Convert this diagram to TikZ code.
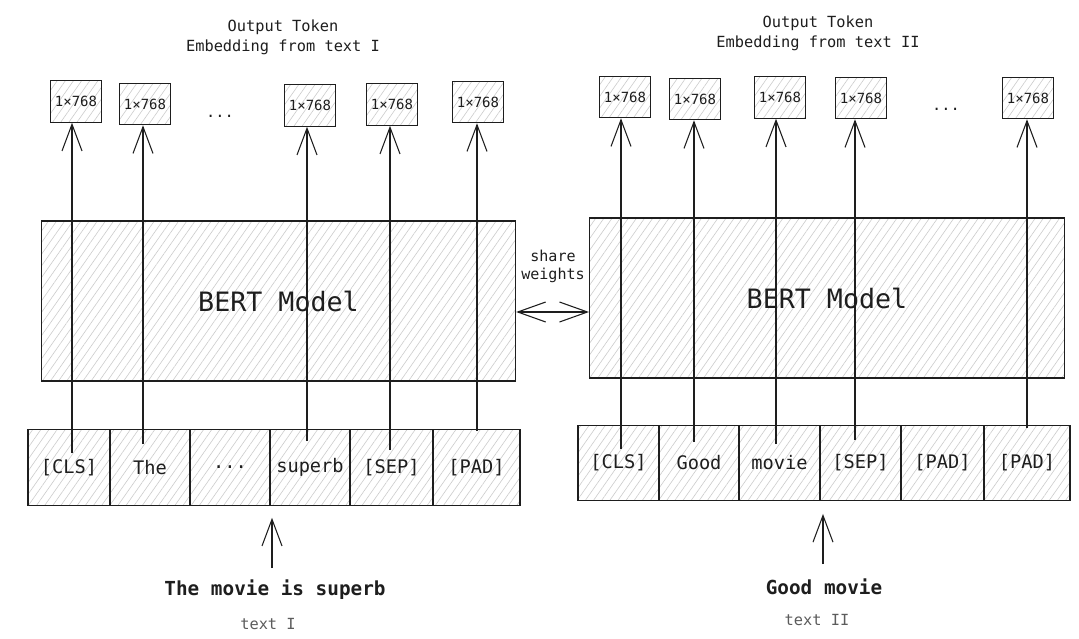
\documentclass[tikz,border=0pt]{standalone}
\usepackage{fontspec}
\setmonofont{DejaVu Sans Mono}
\usetikzlibrary{arrows.meta,patterns.meta}
\definecolor{ink}{HTML}{1E1E1E}
\definecolor{soft}{HTML}{5C5C5C}
\begin{document}
\begin{tikzpicture}[x=0.75pt,y=-0.75pt,
  every node/.style={font=\ttfamily, text=ink},
  hatch/.style={draw=ink, line width=0.9pt, pattern={Lines[angle=55,distance=5pt,line width=0.45pt]}, pattern color=black!20},
  outbox/.style={hatch, minimum width=38.5pt, minimum height=31pt, inner sep=0pt, font=\ttfamily\fontsize{10.5}{12}\selectfont},
  cell/.style={hatch, minimum height=56.5pt, inner sep=0pt, font=\ttfamily\fontsize{14}{16}\selectfont},
  bert/.style={hatch, minimum width=356pt, minimum height=120pt, inner sep=0pt, font=\ttfamily\fontsize{20}{24}\selectfont},
  title/.style={align=center, font=\ttfamily\fontsize{11.5}{15}\selectfont},
  sentence/.style={font=\ttfamily\bfseries\fontsize{14.5}{17}\selectfont},
  caption/.style={font=\ttfamily\fontsize{11.5}{14}\selectfont, text=soft},
  dots/.style={anchor=base, font=\ttfamily\fontsize{11.5}{14}\selectfont},
  arr/.style={draw=ink, line width=0.8pt, -{Straight Barb[length=20pt,width=15pt,line width=0.8pt]}},
  dblarr/.style={draw=ink, line width=0.8pt, {Straight Barb[length=21pt,width=15pt,line width=0.8pt]}-{Straight Barb[length=21pt,width=15pt,line width=0.8pt]}}
]
\useasboundingbox[fill=white] (0,0) rectangle (1079,639);

% titles
\node[title] (titleL) at (283,37) {Output Token\\Embedding from text I};
\node[title] (titleR) at (818,33) {Output Token\\Embedding from text II};

% BERT models
\node[bert] (bertL) at (278.5,301) {BERT Model};
\node[bert] (bertR) at (827,298) {BERT Model};

% share weights
\node[title, font=\ttfamily\fontsize{11.3}{13.5}\selectfont] (share) at (553,266) {share\\weights};
\coordinate (swy) at (0,312);
\draw[dblarr] (bertL.east |- swy) -- (bertR.west |- swy);

% token row left
\node[cell, minimum width=61.5pt]  (cL1) at (69,467.5)   {[CLS]};
\node[cell, minimum width=60pt]    (cL2) at (150,467.5)  {The};
\node[cell, minimum width=60pt]    (cL3) at (230,467.5)  {...};
\node[cell, minimum width=60pt]    (cL4) at (310,467.5)  {superb};
\node[cell, minimum width=62.25pt] (cL5) at (391.5,467.5){[SEP]};
\node[cell, minimum width=65.25pt] (cL6) at (476.5,467.5){[PAD]};

% token row right
\node[cell, minimum width=60.75pt] (cR1) at (618.5,463)  {[CLS]};
\node[cell, minimum width=60pt]    (cR2) at (699,463)    {Good};
\node[cell, minimum width=60.75pt] (cR3) at (779.5,463)  {movie};
\node[cell, minimum width=60.75pt] (cR4) at (860.5,463)  {[SEP]};
\node[cell, minimum width=62.25pt] (cR5) at (942.5,463)  {[PAD]};
\node[cell, minimum width=64.5pt]  (cR6) at (1027,463)   {[PAD]};

% output boxes left
\node[outbox] (oL1) at (76,101.5) {1×768};
\node[outbox] (oL2) at (145,104)  {1×768};
\node[dots]   (dL)  at (220,117)  {...};
\node[outbox] (oL3) at (310,105.5){1×768};
\node[outbox] (oL4) at (392,104.5){1×768};
\node[outbox] (oL5) at (478,102)  {1×768};

% output boxes right
\node[outbox] (oR1) at (625,97)  {1×768};
\node[outbox] (oR2) at (695,99)  {1×768};
\node[outbox] (oR3) at (780,97.5){1×768};
\node[outbox] (oR4) at (861,98)  {1×768};
\node[dots]   (dR)  at (946,110) {...};
\node[outbox] (oR5) at (1028,98) {1×768};

% input sentences
\node[sentence] (sentL) at (275,590) {The movie is superb};
\node[caption]  (capL)  at (268,624) {text I};
\node[sentence] (sentR) at (824,587) {Good movie};
\node[caption]  (capR)  at (817,620) {text II};

% start points of the vertical connectors
\coordinate (sL1) at (72,453);
\coordinate (sL2) at (143,444);
\coordinate (sL3) at (307,441);
\coordinate (sL4) at (390,450);
\coordinate (sL5) at (477,431);
\coordinate (sR1) at (621,449);
\coordinate (sR2) at (694,442);
\coordinate (sR3) at (776,444);
\coordinate (sR4) at (855,440);
\coordinate (sR5) at (1027,428);

\draw[arr] (sL1) -- (sL1 |- oL1.south);
\draw[arr] (sL2) -- (sL2 |- oL2.south);
\draw[arr] (sL3) -- (sL3 |- oL3.south);
\draw[arr] (sL4) -- (sL4 |- oL4.south);
\draw[arr] (sL5) -- (sL5 |- oL5.south);
\draw[arr] (sR1) -- (sR1 |- oR1.south);
\draw[arr] (sR2) -- (sR2 |- oR2.south);
\draw[arr] (sR3) -- (sR3 |- oR3.south);
\draw[arr] (sR4) -- (sR4 |- oR4.south);
\draw[arr] (sR5) -- (sR5 |- oR5.south);

% input arrows
\coordinate (iL) at (272,568);
\coordinate (iR) at (823,564);
\draw[arr, shorten >=9pt] (iL) -- (iL |- cL4.south);
\draw[arr, shorten >=9.5pt] (iR) -- (iR |- cR4.south);
\end{tikzpicture}
\end{document}
